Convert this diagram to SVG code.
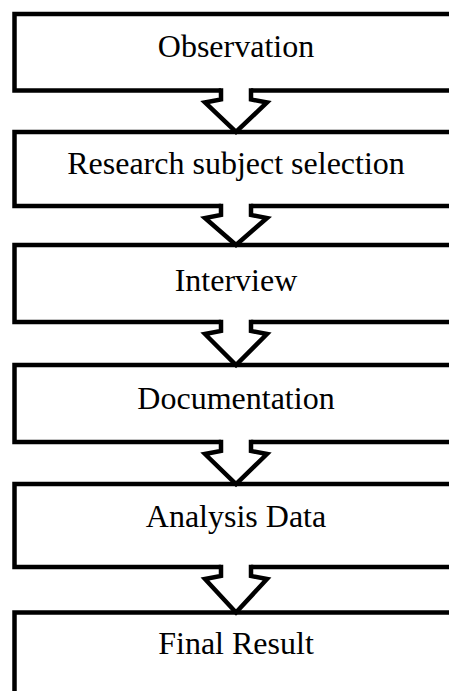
<svg xmlns="http://www.w3.org/2000/svg" width="449" height="691" viewBox="0 0 449 691">
  <style>
    .box { fill: #ffffff; stroke: #000000; stroke-width: 4.5; }
    .cover { fill: #ffffff; stroke: none; }
    .arrow { fill: none; stroke: #000000; stroke-width: 4.5; stroke-linejoin: miter; }
    .label { font-family: "Liberation Serif", "Times New Roman", serif; font-size: 32px; fill: #000000; text-anchor: middle; }
  </style>
  <rect width="449" height="691" fill="#ffffff"/>

  <g id="observation">
    <rect class="box" x="14.5" y="14" width="444" height="76.5"/>
    <text class="label" x="236" y="57">Observation</text>
  </g>
  <g id="research-subject-selection">
    <rect class="box" x="14.5" y="132" width="444" height="74"/>
    <text class="label" x="236" y="174">Research subject selection</text>
  </g>
  <g id="interview">
    <rect class="box" x="14.5" y="245" width="444" height="77"/>
    <text class="label" x="236" y="291">Interview</text>
  </g>
  <g id="documentation">
    <rect class="box" x="14.5" y="365" width="444" height="77"/>
    <text class="label" x="236" y="409">Documentation</text>
  </g>
  <g id="analysis-data">
    <rect class="box" x="14.5" y="484" width="444" height="83"/>
    <text class="label" x="236" y="527">Analysis Data</text>
  </g>
  <g id="final-result">
    <rect class="box" x="14.5" y="612.5" width="444" height="100"/>
    <text class="label" x="236" y="654">Final Result</text>
  </g>

  <!-- block arrows between steps: a white patch hides the box edge under the stem, then the open-topped outline -->
  <g id="connectors">
    <g transform="translate(0 90.5)">
      <path class="cover" d="M221 -3 L221 9 L205 12 L236 41.5 L267 12 L251 9 L251 -3 Z"/>
      <path class="arrow" d="M221 -2.25 L221 9 L205 12 L236 41.5 L267 12 L251 9 L251 -2.25"/>
    </g>
    <g transform="translate(0 206)">
      <path class="cover" d="M221 -3 L221 9 L205 12 L236 39 L267 12 L251 9 L251 -3 Z"/>
      <path class="arrow" d="M221 -2.25 L221 9 L205 12 L236 39 L267 12 L251 9 L251 -2.25"/>
    </g>
    <g transform="translate(0 322)">
      <path class="cover" d="M221 -3 L221 9 L205 12 L236 43 L267 12 L251 9 L251 -3 Z"/>
      <path class="arrow" d="M221 -2.25 L221 9 L205 12 L236 43 L267 12 L251 9 L251 -2.25"/>
    </g>
    <g transform="translate(0 442)">
      <path class="cover" d="M221 -3 L221 9 L205 12 L236 42 L267 12 L251 9 L251 -3 Z"/>
      <path class="arrow" d="M221 -2.25 L221 9 L205 12 L236 42 L267 12 L251 9 L251 -2.25"/>
    </g>
    <g transform="translate(0 567)">
      <path class="cover" d="M221 -3 L221 9 L205 12 L236 45.5 L267 12 L251 9 L251 -3 Z"/>
      <path class="arrow" d="M221 -2.25 L221 9 L205 12 L236 45.5 L267 12 L251 9 L251 -2.25"/>
    </g>
  </g>
</svg>
